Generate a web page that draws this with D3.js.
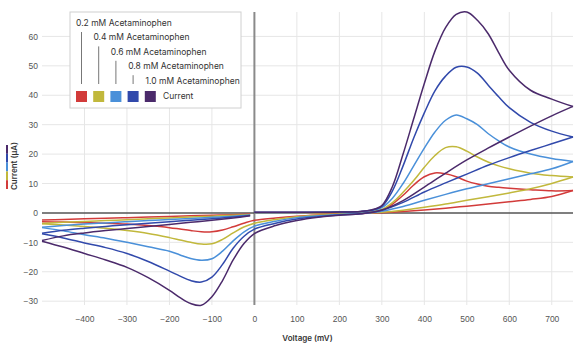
<!DOCTYPE html>
<html>
<head>
<meta charset="utf-8">
<script src="https://cdn.jsdelivr.net/npm/d3@7"></script>
<style>
  body { margin: 0; background: #fff; }
  svg { font-family: "Inter", "Open Sans", sans-serif; }
</style>
</head>
<body>
<svg id="canvas" width="575" height="345"></svg>
<script>
// concentraciones y colores
const labels = ["0.2 mM Acetaminophen", "0.4 mM Acetaminophen", "0.6 mM Acetaminophen", "0.8 mM Acetaminophen", "1.0 mM Acetaminophen"]
const colores = ["#d23b3a", "#c1b83c", "#4a90d9", "#3149ab", "#4b2a6b"]

const xTicks = [-400, -300, -200, -100, 0, 100, 200, 300, 400, 500, 600, 700]
const yTicks = [-30, -20, -10, 0, 10, 20, 30, 40, 50, 60]

// barrido directo, parte izquierda (mV)
const vFwdA = [-500, -450, -400, -350, -300, -250, -200, -150, -100, -50, -10]
// barrido directo, parte derecha (mV)
const vFwdB = [0, 50, 100, 150, 200, 250, 275, 300, 325, 350, 375, 400, 425, 450, 475, 500, 525, 550, 575, 600, 650, 700, 750]
// barrido inverso (mV)
const vRev = [750, 700, 650, 600, 550, 500, 450, 400, 350, 300, 250, 200, 150, 100, 50, 0, -25, -50, -75, -100, -125, -150, -175, -200, -250, -300, -350, -400, -450, -500]

// corriente (uA)
const fwdA02 = [-2.4, -2.2, -2.0, -1.8, -1.6, -1.4, -1.2, -1.0, -0.8, -0.6, -0.4]
const fwdA04 = [-3.6, -3.2, -2.9, -2.6, -2.3, -2.0, -1.7, -1.4, -1.1, -0.8, -0.5]
const fwdA06 = [-4.9, -4.3, -3.8, -3.4, -3.0, -2.6, -2.2, -1.9, -1.5, -1.1, -0.7]
const fwdA08 = [-6.9, -5.9, -5.2, -4.6, -4.0, -3.5, -3.0, -2.5, -2.0, -1.4, -0.9]
const fwdA10 = [-9.4, -7.8, -6.8, -6.0, -5.3, -4.6, -3.9, -3.2, -2.5, -1.7, -1.0]

const fwdB02 = [0.1, 0.1, 0.1, 0.1, 0.1, 0.2, 0.4, 0.8, 3, 6, 9.5, 12.3, 13.6, 13.3, 12.3, 10.8, 9.8, 9.1, 8.7, 8.4, 7.9, 7.5, 7.6]
const fwdB04 = [0.1, 0.1, 0.1, 0.1, 0.2, 0.3, 0.6, 1.2, 3.5, 7, 11, 15.5, 19.5, 22.2, 22.5, 21, 19, 17.3, 16, 15, 13.5, 12.7, 12.2]
const fwdB06 = [0.1, 0.1, 0.1, 0.2, 0.3, 0.4, 0.8, 1.8, 5, 10, 16, 22, 27.5, 31.5, 33.3, 32, 30, 27, 24.5, 22.4, 20, 18.5, 17.5]
const fwdB08 = [0.2, 0.2, 0.2, 0.2, 0.3, 0.5, 0.9, 2.2, 7.5, 16, 25.5, 34, 41.5, 46.5, 49.5, 49.6, 47.5, 43.5, 39.5, 35.8, 30.8, 27.8, 25.8]
const fwdB10 = [0.2, 0.2, 0.2, 0.2, 0.3, 0.5, 1.0, 2.5, 9, 20, 32, 44, 55, 63, 67.5, 68.3, 65.5, 61, 54.5, 48.5, 41.7, 38.7, 36.2]

const rev02 = [7.6, 5.6, 4.6, 3.8, 3, 2.3, 1.6, 1.0, 0.5, 0.1, -0.2, -0.4, -0.7, -1.1, -1.7, -2.5, -3.5, -4.7, -5.8, -6.4, -6.4, -6, -5.5, -5, -4.3, -3.8, -3.5, -3.3, -3.1, -3.0]
const rev04 = [12.2, 10, 8.2, 6.8, 5.5, 4.3, 3, 1.9, 0.9, 0.2, -0.1, -0.4, -0.8, -1.3, -2.2, -3.5, -4.8, -6.8, -9, -10.5, -10.6, -10, -9.2, -8.4, -7, -6, -5.2, -4.6, -4.1, -3.7]
const rev06 = [17.5, 15, 13.3, 11.6, 9.9, 8.2, 6.3, 4.3, 2.2, 0.6, -0.2, -0.5, -1, -1.6, -2.8, -4.5, -6.5, -9.5, -13, -15.6, -16.1, -15.5, -14.3, -13, -11.5, -10, -8.6, -7.4, -6.1, -5]
const rev08 = [25.8, 23.5, 21.2, 18.8, 16.2, 13.2, 10.2, 7.1, 3.6, 0.9, -0.3, -0.7, -1.3, -2.1, -3.5, -5.5, -8, -12, -17.5, -21.8, -23.5, -23, -21.5, -19.8, -16.5, -13.8, -11.8, -10.2, -8.5, -7.1]
const rev10 = [36.2, 33, 29.5, 25.8, 22, 18, 13.5, 8.8, 4.2, 1.0, -0.3, -0.8, -1.5, -2.6, -4.3, -7, -10.5, -16, -23, -28.5, -31.4, -30.8, -28.8, -26.3, -22, -18.5, -16, -13.8, -11.6, -9.6]

const fwdA = [fwdA02, fwdA04, fwdA06, fwdA08, fwdA10]
const fwdB = [fwdB02, fwdB04, fwdB06, fwdB08, fwdB10]
const rev = [rev02, rev04, rev06, rev08, rev10]

let canvas = d3.select("#canvas")

// escalas
const x = d3.scaleLinear().domain([-500, 750]).range([42, 573])
const y = d3.scaleLinear().domain([-31.3, 68.3]).range([305, 12])

// rejilla
const grid = canvas.append("g")
grid.selectAll("line.h").data(yTicks.filter(d => d !== 0)).enter().append("line")
    .attr("x1", x(-500)).attr("x2", x(750))
    .attr("y1", d => y(d)).attr("y2", d => y(d))
    .attr("stroke", "#e6e6e6").attr("stroke-width", 1)
grid.selectAll("line.v").data(xTicks.filter(d => d !== 0)).enter().append("line")
    .attr("x1", d => x(d)).attr("x2", d => x(d))
    .attr("y1", y(68.3)).attr("y2", y(-31.3))
    .attr("stroke", "#e6e6e6").attr("stroke-width", 1)

// ejes en cero
canvas.append("line")
    .attr("x1", x(0)).attr("x2", x(0)).attr("y1", y(68.3)).attr("y2", y(-31.3))
    .attr("stroke", "#8a8a8a").attr("stroke-width", 2)
canvas.append("line")
    .attr("x1", x(-500)).attr("x2", x(750)).attr("y1", y(0)).attr("y2", y(0))
    .attr("stroke", "#555").attr("stroke-width", 1.5)

// etiquetas de ejes
const xAxis = d3.axisBottom(x).tickValues(xTicks).tickSize(0).tickPadding(0)
const gx = canvas.append("g").attr("transform", "translate(0,316)").call(xAxis)
gx.select(".domain").remove()
gx.selectAll("text").attr("fill", "#555").style("font-size", "8.5px").attr("dy", "0.7em")

const yAxis = d3.axisLeft(y).tickValues(yTicks).tickSize(0).tickPadding(0)
const gy = canvas.append("g").attr("transform", "translate(38,0)").call(yAxis)
gy.select(".domain").remove()
gy.selectAll("text").attr("fill", "#555").style("font-size", "8.5px")

canvas.append("text")
    .attr("x", (x(-500) + x(750)) / 2).attr("y", 341)
    .attr("text-anchor", "middle")
    .style("font-size", "8px").style("font-weight", "600").attr("fill", "#333")
    .text("Voltage (mV)")

canvas.append("text")
    .attr("transform", "translate(17,166) rotate(-90)")
    .attr("text-anchor", "middle")
    .style("font-size", "8px").style("font-weight", "600").attr("fill", "#333")
    .text("Current (µA)")

// barra de colores junto al titulo
const segs = colores.slice().reverse()
canvas.selectAll("rect.seg").data(segs).enter().append("rect")
    .attr("x", 6).attr("width", 2)
    .attr("y", (d, i) => 145 + i * 8.8).attr("height", 8.8)
    .attr("fill", d => d)

// curvas
const linea = d3.line()
    .x(d => x(d[0])).y(d => y(d[1]))
    .curve(d3.curveCatmullRom.alpha(0.5))

const curvas = canvas.append("g").attr("fill", "none").attr("stroke-width", 1.5)
colores.forEach((c, i) => {
    const a = vFwdA.map((v, j) => [v, fwdA[i][j]])
    const b = vFwdB.map((v, j) => [v, fwdB[i][j]])
    const r = vRev.map((v, j) => [v, rev[i][j]])
    ;[a, b, r].forEach(pts => {
        curvas.append("path").attr("d", linea(pts)).attr("stroke", c)
    })
})

// leyenda
const ley = canvas.append("g")
ley.append("rect")
    .attr("x", 70).attr("y", 12).attr("width", 171).attr("height", 96)
    .attr("fill", "#fff").attr("stroke", "#d0d0d0")
labels.forEach((t, i) => {
    const ly = 23 + i * 14.4
    const sx = 76 + i * 17.2
    ley.append("text")
        .attr("x", 76 + i * 17.4).attr("y", ly).attr("dy", "0.35em")
        .style("font-size", "8.5px").attr("fill", "#333")
        .text(t)
    if (ly + 9 < 84) {
        ley.append("line")
            .attr("x1", sx + 5.5).attr("x2", sx + 5.5)
            .attr("y1", ly + 9).attr("y2", 84)
            .attr("stroke", "#777").attr("stroke-width", 1)
    }
    ley.append("rect")
        .attr("x", sx).attr("y", 91).attr("width", 11).attr("height", 11)
        .attr("fill", colores[i])
})
ley.append("text")
    .attr("x", 163).attr("y", 96.5).attr("dy", "0.35em")
    .style("font-size", "8.5px").attr("fill", "#333")
    .text("Current")
</script>
</body>
</html>
